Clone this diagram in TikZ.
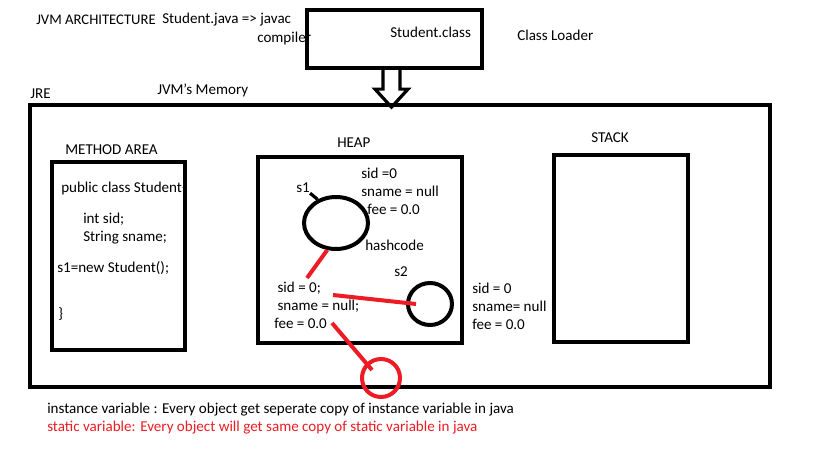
\documentclass[tikz,border=0pt]{standalone}
\usepackage{xcolor}
\usepackage{fontspec}
\setmainfont{Carlito}
\usepackage{tikz}
\usetikzlibrary{positioning, calc, shapes.geometric}

\definecolor{paintred}{HTML}{ED1C24}

\begin{document}
\begin{tikzpicture}[
    x=0.75pt, y=-0.75pt,
    txt/.style={anchor=west, inner sep=0pt, align=left, font=\fontsize{11.3}{13.5}\selectfont},
    area/.style={rectangle, draw=black, line width=3.2pt, inner sep=0pt},
    obj/.style={ellipse, draw=black, line width=3pt, inner sep=0pt},
    redline/.style={draw=paintred, line width=3pt},
    hollowarrow/.style={draw=black, line width=2.4pt, line join=miter}
]
    \useasboundingbox (0,0) rectangle (819,460);

    % Top row
    \node[txt, font=\fontsize{11}{13.5}\selectfont] (title) at (36,20) {JVM ARCHITECTURE};
    \node[txt] (src) at (162,20) {Student.java => javac};
    \node[txt] (javac) at (257,38) {compiler};
    \node[area, minimum width=131.25pt, minimum height=43.5pt] (cls) at (394.5,39) {};
    \node[txt] (clsname) at (390,32) {Student.class};
    \node[txt] (loader) at (517,35) {Class Loader};

    % JRE and memory areas
    \node[txt] (jrelbl) at (30,94) {JRE};
    \node[txt] (memlbl) at (157,90) {JVM's Memory};
    \node[area, minimum width=555pt, minimum height=211.5pt] (jre) at (400,246) {};

    % Hollow arrow from class file to JRE
    \draw[hollowarrow] ($(cls.south)+(-11.5,0)$) -- ++(0,19) -- ++(-8,0)
        -- ($(cls.south)+(-3,37)$) -- ++(16.5,-18) -- ++(-8,0) -- ++(0,-19);

    \node[txt] (methodlbl) at (65,150) {METHOD AREA};
    \node[area, minimum width=99.75pt, minimum height=141pt] (method) at (118.5,256) {};
    \node[txt] (heaplbl) at (337,143) {HEAP};
    \node[area, minimum width=153pt, minimum height=139.5pt] (heap) at (360,250) {};
    \node[txt] (stacklbl) at (591,138) {STACK};
    \node[area, minimum width=100.5pt, minimum height=140.25pt] (stack) at (621,248.5) {};

    % Class code
    \node[txt] (code1) at (61,188) {public class Student\{};
    \node[txt] (code2) at (83,229) {int sid;\\String sname;};
    \node[txt] (code3) at (57,268) {s1=new Student();};
    \node[txt] (code4) at (58,314) {\}};

    % Objects
    \node[obj, minimum width=48pt, minimum height=39pt] (s1) at (336,223) {};
    \node[txt] (s1lbl) at (296,188) {s1};
    \draw[line width=2.4pt] (s1lbl.south east) -- (s1.128);
    \node[txt] (fields1) at (361,191) {sid =0\\sname = null\\\hspace{4.5pt}fee = 0.0};
    \node[txt] (hash) at (365,245) {hashcode};

    \node[obj, minimum width=33pt, minimum height=31.5pt] (s2) at (430,304) {};
    \node[txt] (s2lbl) at (394,272) {s2};
    \node[txt] (fields2) at (472,306) {sid = 0\\sname= null\\fee = 0.0};

    \node[txt] (fields3) at (274,305) {\hspace{2.5pt}sid = 0;\\\hspace{2.5pt}sname = null;\\fee = 0.0};

    % Red references
    \node[circle, draw=paintred, line width=3pt, minimum size=28.5pt, inner sep=0pt] (static) at (381,378) {};
    \coordinate (a1) at (307,278);
    \coordinate (a2) at (333,295);
    \coordinate (a3) at (332,323);
    \draw[redline] (s1.252) -- (a1);
    \draw[redline] (a2) -- ([xshift=-10.5pt]s2.center);
    \draw[redline] (a3) -- ($(static.center)+(-9,-8)$);

    % Notes
    \node[txt] (note1) at (47,410) {instance variable : Every object get seperate copy of instance variable in java};
    \node[txt, text=paintred] (note2) at (47,428) {static variable: Every object will get same copy of static variable in java};
\end{tikzpicture}
\end{document}
